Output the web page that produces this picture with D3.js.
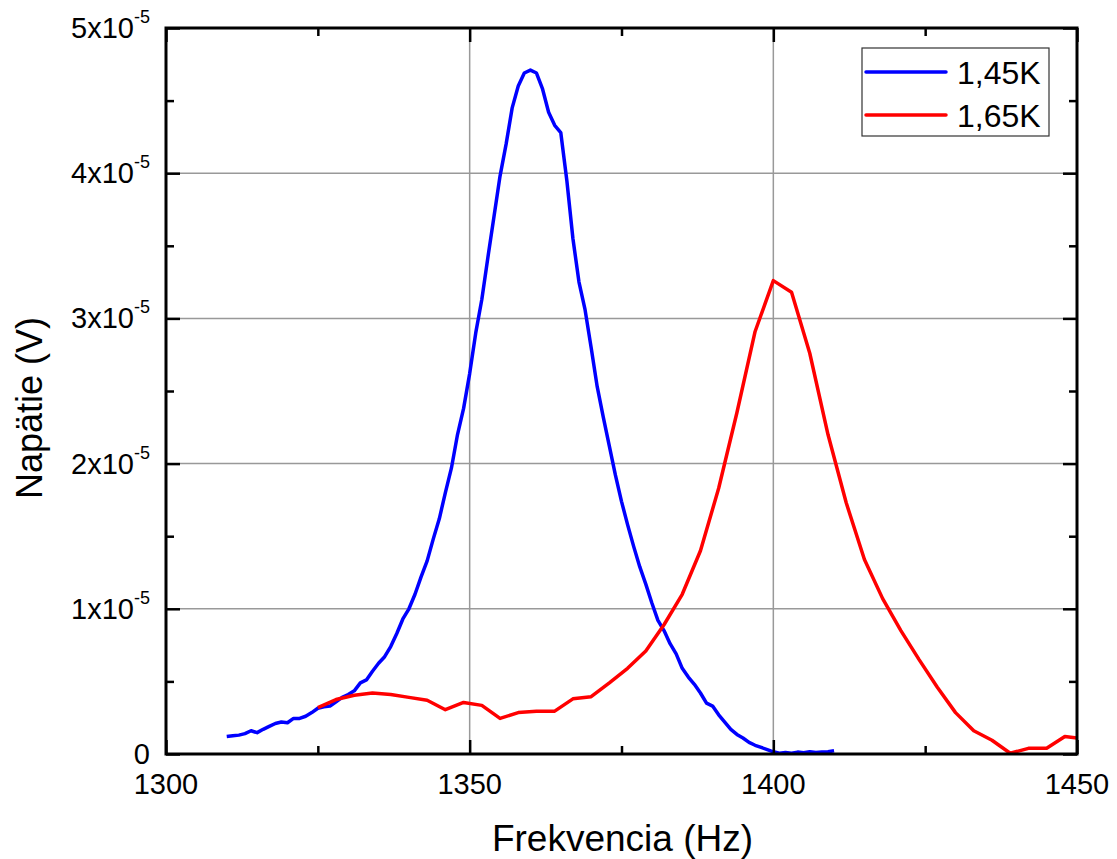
<!DOCTYPE html>
<html>
<head>
<meta charset="utf-8">
<script src="https://cdn.jsdelivr.net/npm/d3@7"></script>
<style>
  body { margin: 0; background: #fff; }
  svg { display: block; font-family: "Liberation Sans", Arial, sans-serif; }
</style>
</head>
<body>
<svg id="chart" width="1117" height="859"></svg>
<script>
// Resonance curves: measured voltage vs. excitation frequency at two temperatures
const freq145 = [1310,1311,1312,1313,1314,1315,1316,1317,1318,1319,1320,1321,1322,1323,1324,1325,1326,1327,1328,1329,
  1330,1331,1332,1333,1334,1335,1336,1337,1338,1339,1340,1341,1342,1343,1344,1345,1346,1347,1348,1349,
  1350,1351,1352,1353,1354,1355,1356,1357,1358,1359,1360,1361,1362,1363,1364,1365,1366,1367,1368,1369,
  1370,1371,1372,1373,1374,1375,1376,1377,1378,1379,1380,1381,1382,1383,1384,1385,1386,1387,1388,1389,
  1390,1391,1392,1393,1394,1395,1396,1397,1398,1399,1400,1401,1402,1403,1404,1405,1406,1407,1408,1409,1410];
const volt145 = [1.2e-6,1.25e-6,1.3e-6,1.4e-6,1.6e-6,1.47e-6,1.7e-6,1.9e-6,2.1e-6,2.2e-6,2.15e-6,2.45e-6,2.45e-6,2.6e-6,2.85e-6,3.15e-6,3.25e-6,3.3e-6,3.6e-6,3.9e-6,
  4.1e-6,4.35e-6,4.9e-6,5.1e-6,5.7e-6,6.25e-6,6.7e-6,7.4e-6,8.3e-6,9.3e-6,1.0e-5,1.1e-5,1.22e-5,1.33e-5,1.48e-5,1.62e-5,1.8e-5,1.97e-5,2.2e-5,2.38e-5,
  2.62e-5,2.9e-5,3.13e-5,3.42e-5,3.7e-5,3.98e-5,4.2e-5,4.45e-5,4.6e-5,4.69e-5,4.71e-5,4.69e-5,4.58e-5,4.42e-5,4.33e-5,4.28e-5,3.95e-5,3.55e-5,3.25e-5,3.06e-5,
  2.8e-5,2.53e-5,2.32e-5,2.12e-5,1.92e-5,1.74e-5,1.58e-5,1.43e-5,1.29e-5,1.17e-5,1.04e-5,9.2e-6,8.5e-6,7.6e-6,6.9e-6,5.9e-6,5.3e-6,4.8e-6,4.2e-6,3.5e-6,
  3.3e-6,2.7e-6,2.2e-6,1.7e-6,1.35e-6,1.1e-6,8e-7,6e-7,4.5e-7,3e-7,1.5e-7,5e-8,1e-7,5e-8,1.3e-7,8e-8,1.6e-7,1e-7,1.4e-7,1.5e-7,2.2e-7];

const freq165 = [1325,1328,1331,1334,1337,1340,1343,1346,1349,1352,1355,1358,1361,1364,1367,1370,1373,1376,1379,1382,
  1385,1388,1391,1394,1397,1400,1403,1406,1409,1412,1415,1418,1421,1424,1427,1430,1433,1436,1439,1442,1445,1448,1450];
const volt165 = [3.2e-6,3.75e-6,4.05e-6,4.2e-6,4.1e-6,3.9e-6,3.7e-6,3.05e-6,3.55e-6,3.35e-6,2.45e-6,2.85e-6,2.95e-6,2.95e-6,3.8e-6,3.95e-6,4.9e-6,5.9e-6,7.1e-6,8.9e-6,
  1.10e-5,1.40e-5,1.83e-5,2.35e-5,2.91e-5,3.26e-5,3.18e-5,2.76e-5,2.2e-5,1.73e-5,1.34e-5,1.07e-5,8.5e-6,6.5e-6,4.6e-6,2.85e-6,1.6e-6,9.5e-7,5e-8,3.9e-7,3.9e-7,1.2e-6,1.1e-6];

const seriesNames = ["1,45K", "1,65K"];
const seriesColors = ["#0000ff", "#ff0000"];

const xMajorTicks = [1300, 1350, 1400, 1450];
const xMinorTicks = [1325, 1375, 1425];
const yMajorTicks = [0, 1e-5, 2e-5, 3e-5, 4e-5, 5e-5];
const yMinorTicks = [0.5e-5, 1.5e-5, 2.5e-5, 3.5e-5, 4.5e-5];
const yTickMantissa = ["0", "1", "2", "3", "4", "5"];

const xTitle = "Frekvencia (Hz)";
const yTitle = "Napätie (V)";

// Plot frame in pixels
const pL = 166, pR = 1077, pT = 28, pB = 754;
const svg = d3.select("#chart");

const x = d3.scaleLinear().domain([1300, 1450]).range([pL, pR]);
const y = d3.scaleLinear().domain([0, 5e-5]).range([pB, pT]);

// Grid lines at the inner major ticks
const grid = svg.append("g").attr("stroke", "#999").attr("stroke-width", 1.5);
grid.selectAll("line.gx").data(xMajorTicks.slice(1, -1)).join("line").attr("class", "gx")
  .attr("x1", d => x(d)).attr("x2", d => x(d)).attr("y1", pT).attr("y2", pB);
grid.selectAll("line.gy").data(yMajorTicks.slice(1, -1)).join("line").attr("class", "gy")
  .attr("y1", d => y(d)).attr("y2", d => y(d)).attr("x1", pL).attr("x2", pR);

// Data lines, clipped to the frame
svg.append("clipPath").attr("id", "plotclip")
  .append("rect").attr("x", pL).attr("y", pT).attr("width", pR - pL).attr("height", pB - pT);
const line = d3.line().x(d => x(d[0])).y(d => y(d[1]));
const series = [d3.zip(freq145, volt145), d3.zip(freq165, volt165)];
svg.append("g").attr("clip-path", "url(#plotclip)")
  .selectAll("path").data(series).join("path")
  .attr("d", line)
  .attr("fill", "none")
  .attr("stroke", (d, i) => seriesColors[i])
  .attr("stroke-width", 3.5)
  .attr("stroke-linejoin", "round");

// Axes with inward ticks on all four sides
function styleAxis(g) {
  g.selectAll(".domain").remove();
  g.selectAll(".tick line").attr("stroke", "#000").attr("stroke-width", 2.5);
}
const majorLen = 14, minorLen = 8;
const axes = [
  [() => d3.axisBottom(x), `translate(0,${pB})`, true],
  [() => d3.axisTop(x), `translate(0,${pT})`, true],
  [() => d3.axisLeft(y), `translate(${pL},0)`, false],
  [() => d3.axisRight(y), `translate(${pR},0)`, false]
];
axes.forEach(([mk, tr, isX]) => {
  svg.append("g").attr("transform", tr)
    .call(mk().tickValues(isX ? xMajorTicks : yMajorTicks).tickSize(-majorLen).tickFormat(""))
    .call(styleAxis);
  svg.append("g").attr("transform", tr)
    .call(mk().tickValues(isX ? xMinorTicks : yMinorTicks).tickSize(-minorLen).tickFormat(""))
    .call(styleAxis);
});

// Frame
svg.append("rect").attr("x", pL).attr("y", pT).attr("width", pR - pL).attr("height", pB - pT)
  .attr("fill", "none").attr("stroke", "#000").attr("stroke-width", 3);

// X tick labels
svg.append("g").selectAll("text").data(xMajorTicks).join("text")
  .attr("x", d => x(d)).attr("y", 794)
  .attr("text-anchor", "middle").attr("font-size", 29).attr("fill", "#000")
  .text(d => d);

// Y tick labels in power-of-ten notation
const ylab = svg.append("g").selectAll("text").data(yMajorTicks).join("text")
  .attr("x", 150).attr("y", d => y(d) + 10)
  .attr("text-anchor", "end").attr("font-size", 29).attr("fill", "#000");
ylab.each(function(d, i) {
  const t = d3.select(this);
  if (d === 0) { t.text("0"); return; }
  t.append("tspan").text(yTickMantissa[i] + "x10");
  t.append("tspan").attr("dy", -15).attr("font-size", 18).text("-5");
});

// Axis titles
svg.append("text").attr("x", (pL + pR) / 2 + 1).attr("y", 851)
  .attr("text-anchor", "middle").attr("font-size", 37).attr("fill", "#000").text(xTitle);
svg.append("text").attr("transform", "translate(42,408) rotate(-90)")
  .attr("text-anchor", "middle").attr("font-size", 36).attr("fill", "#000").text(yTitle);

// Legend
const legend = svg.append("g");
legend.append("rect").attr("x", 862).attr("y", 48).attr("width", 187).attr("height", 88)
  .attr("fill", "#fff").attr("stroke", "#333").attr("stroke-width", 1.2);
seriesNames.forEach((name, i) => {
  const ly = 72 + i * 43;
  legend.append("line").attr("x1", 866).attr("x2", 946).attr("y1", ly).attr("y2", ly)
    .attr("stroke", seriesColors[i]).attr("stroke-width", 3.5).attr("stroke-linecap", "round");
  legend.append("text").attr("x", 957).attr("y", ly + 11.5)
    .attr("font-size", 32).attr("fill", "#000").text(name);
});
</script>
</body>
</html>
